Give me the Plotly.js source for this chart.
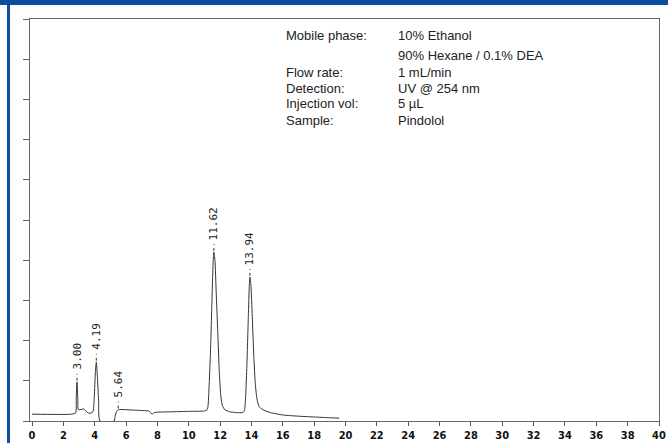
<!DOCTYPE html>
<html><head><meta charset="utf-8">
<script src="https://cdn.plot.ly/plotly-3.0.1.min.js"></script>
<style>html,body{margin:0;padding:0;background:#fff}#chart{width:668px;height:443px}</style>
</head><body><div id="chart"></div>
<script>
// Retention time (min) and detector signal (arbitrary units)
const times  = [0, 2.5, 2.78, 2.82, 2.87, 2.92, 2.96, 3.3, 3.45, 3.6, 3.8, 3.9, 3.97, 4.04, 4.1, 4.17, 4.25, 4.34, 5.23, 5.3, 5.4, 5.5, 6.5, 7.5, 7.65, 7.8, 8.0, 9.0, 10.0, 11.0, 11.15, 11.22, 11.3, 11.4, 11.5, 11.56, 11.6, 11.67, 11.75, 11.85, 11.95, 12.05, 12.15, 12.3, 12.6, 13.0, 13.45, 13.55, 13.62, 13.7, 13.8, 13.86, 13.9, 13.96, 14.05, 14.15, 14.25, 14.35, 14.5, 14.8, 15.2, 16, 17, 18, 19, 19.6];
const signal = [0.17, 0.17, 0.2, 0.6, 0.97, 0.55, 0.28, 0.3, 0.24, 0.2, 0.2, 0.25, 0.6, 1.2, 1.47, 1.1, 0.5, 0.0, 0.0, 0.12, 0.24, 0.28, 0.27, 0.24, 0.17, 0.21, 0.22, 0.23, 0.24, 0.25, 0.27, 0.35, 0.9, 1.9, 3.3, 4.0, 4.2, 4.0, 3.2, 2.2, 1.2, 0.6, 0.38, 0.28, 0.23, 0.21, 0.21, 0.26, 0.55, 1.3, 2.6, 3.35, 3.58, 3.4, 2.6, 1.6, 0.9, 0.55, 0.35, 0.27, 0.21, 0.15, 0.12, 0.1, 0.08, 0.07];
const peakX       = [2.87, 4.1, 5.5, 11.6, 13.9];
const peakHeights = [0.97, 1.47, 0.28, 4.2, 3.58];
const peakLabels  = ["3.00", "4.19", "5.64", "11.62", "13.94"];
const xTicks = [0,2,4,6,8,10,12,14,16,18,20,22,24,26,28,30,32,34,36,38,40];
const yTicks = [0,1,2,3,4,5,6,7,8,9,10];
const infoKeys   = ["Mobile phase:", "", "Flow rate:", "Detection:", "Injection vol:", "Sample:"];
const infoValues = ["10% Ethanol", "90% Hexane / 0.1% DEA", "1 mL/min", "UV @ 254 nm", "5 µL", "Pindolol"];

const W = 668, H = 443, L = 30, R = 9, T = 19, B = 22;
const pw = W - L - R, ph = H - T - B;
const px = v => (v - L) / pw;        // page px -> paper x
const py = v => (H - B - v) / ph;    // page px -> paper y
const blue = '#0b4ea0';

const shapes = [];
const annotations = [];
// blue frame
shapes.push({type:'rect', xref:'paper', yref:'paper', x0:px(0), x1:px(W), y0:py(5), y1:py(0), fillcolor:blue, line:{width:0}, layer:'below'});
shapes.push({type:'rect', xref:'paper', yref:'paper', x0:px(7), x1:px(10), y0:py(H), y1:py(0), fillcolor:blue, line:{width:0}, layer:'below'});
// peak label connectors
peakX.forEach((t, i) => {
  shapes.push({type:'line', xref:'x', yref:'y', x0:t, x1:t, y0:peakHeights[i] + 0.03, y1:peakHeights[i] + 0.2,
    line:{color:'#333', width:1, dash:'dot'}});
  annotations.push({x:t, y:peakHeights[i] + 0.2, xref:'x', yref:'y', text:peakLabels[i], showarrow:false,
    textangle:-90, yanchor:'bottom', xanchor:'center', yshift:2,
    font:{family:'DejaVu Sans Mono', size:11, color:'#222'}});
});
// info block
const lineY = [36, 55, 72, 88, 104, 120];
infoKeys.forEach((k, i) => {
  if (k) annotations.push({x:px(284), y:py(lineY[i]), xref:'paper', yref:'paper', text:k, showarrow:false,
    xanchor:'left', yanchor:'middle', font:{family:'Liberation Sans', size:13, color:'#222'}});
  annotations.push({x:px(396), y:py(lineY[i]), xref:'paper', yref:'paper', text:infoValues[i], showarrow:false,
    xanchor:'left', yanchor:'middle', font:{family:'Liberation Sans', size:13, color:'#222'}});
});

const trace = {x:times, y:signal, type:'scatter', mode:'lines', line:{color:'#333', width:1, shape:'spline', smoothing:0.6}, hoverinfo:'skip'};

const layout = {
  width:W, height:H, margin:{l:L, r:R, t:T, b:B},
  paper_bgcolor:'#fff', plot_bgcolor:'#fff', showlegend:false,
  xaxis:{range:[-0.13, 40], tickvals:xTicks, ticktext:xTicks.map(String), ticks:'outside', ticklen:4, tickcolor:'#555',
    showgrid:false, zeroline:false, showline:true, linecolor:'#666', linewidth:1, mirror:true,
    tickfont:{family:'Liberation Sans Narrow, DejaVu Sans Condensed', size:11, weight:'bold', color:'#111'}},
  yaxis:{range:[0, 10], tickvals:yTicks, showticklabels:false, ticks:'outside', ticklen:6, tickcolor:'#666',
    showgrid:false, zeroline:false, showline:true, linecolor:'#666', linewidth:1, mirror:true},
  shapes:shapes, annotations:annotations
};
Plotly.newPlot('chart', [trace], layout, {displayModeBar:false, staticPlot:true});
</script></body></html>
